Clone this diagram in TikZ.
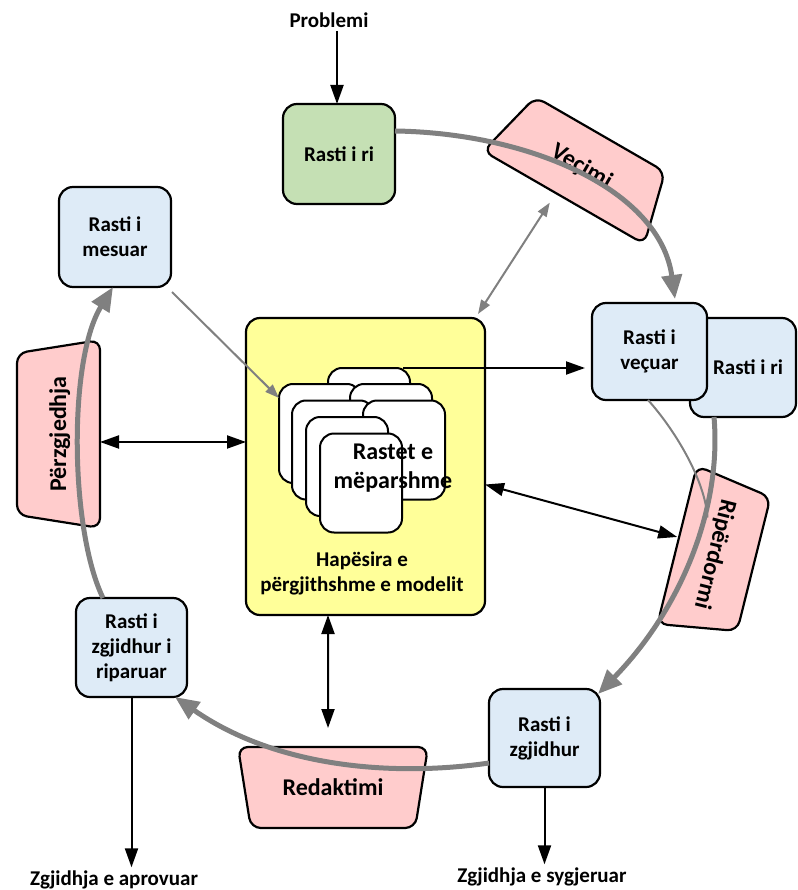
\documentclass[tikz,border=0pt]{standalone}
\usepackage{fontspec}
\setmainfont{Carlito}
\usetikzlibrary{arrows.meta,shapes.geometric,calc}

\definecolor{boxgreen}{RGB}{197,224,180}
\definecolor{boxblue}{RGB}{222,235,247}
\definecolor{procpink}{RGB}{255,204,204}
\definecolor{spaceyellow}{RGB}{255,255,153}
\definecolor{flowgray}{RGB}{128,128,128}

\newcommand\boxfont{\fontsize{21}{25}\selectfont\bfseries}
\newcommand\procfont{\fontsize{24}{29}\selectfont\bfseries}

\tikzset{
  casebox/.style={draw, line width=2.2pt, rounded corners=14pt, fill=boxblue,
    align=center, inner sep=0pt, outer sep=0pt, font=\boxfont},
  % the text box sets the full height, so the side angles stay as given
  proc/.style={trapezium, trapezium stretches body=true, draw, line width=2.2pt,
    rounded corners=10pt, fill=procpink, inner sep=0pt, outer sep=0pt, font=\procfont},
  card/.style={draw, line width=2pt, rounded corners=14pt, fill=white,
    minimum width=82pt, minimum height=99pt, outer sep=0pt},
  plainlbl/.style={font=\boxfont, align=center},
  cycle/.style={draw=flowgray, line width=5pt, -{Triangle[length=24pt,width=20pt]}},
  link/.style={draw=flowgray, line width=2pt,
    {Triangle[length=14pt,width=10pt]}-{Triangle[length=14pt,width=10pt]}},
  linkone/.style={draw=flowgray, line width=2pt, -{Triangle[length=14pt,width=10pt]}},
  flow/.style={line width=2pt, -{Triangle[length=19pt,width=13pt]}},
  both/.style={line width=2pt,
    {Triangle[length=19pt,width=13pt]}-{Triangle[length=19pt,width=13pt]}},
}

\begin{document}
\begin{tikzpicture}[x=1pt,y=-1pt]
\useasboundingbox (0,0) rectangle (797,890);

% central model space with the stack of stored cases
\node[draw, line width=2.2pt, rounded corners=14pt, fill=spaceyellow,
  minimum width=239pt, minimum height=297pt, outer sep=0pt] (space) at (365.5,466.5) {};
\node[plainlbl] (spacelbl) at (362,573) {Hapësira e\\përgjithshme e modelit};
\node[card] (c1) at (369,417.5) {};
\node[card] (c2) at (320,433.5) {};
\node[card] (c3) at (391,433.5) {};
\node[card] (c4) at (333,450) {};
\node[card] (c5) at (404,450) {};
\node[card] (c6) at (347,466.5) {};
\node[card] (c7) at (361,483) {};
\node[font=\procfont, align=center] (pastlbl) at (393,468) {Rastet e\\mëparshme};

% cases around the cycle
\node[plainlbl] (prob) at (329,20) {Problemi};
\node[casebox, fill=boxgreen, minimum width=112pt, minimum height=100pt] (new) at (339,154) {Rasti i ri};
\node[casebox, minimum width=106pt, minimum height=99pt] (newb) at (743,367.5) {\hspace*{10pt}Rasti i ri};
\node[casebox, minimum width=115pt, minimum height=97pt] (isol) at (649.5,351.5) {Rasti i\\veçuar};
\node[casebox, minimum width=111pt, minimum height=98pt] (zgj) at (544.5,738) {Rasti i\\zgjidhur};
\node[casebox, minimum width=111pt, minimum height=99pt] (rip) at (131.5,647.5) {Rasti i\\zgjidhur i\\riparuar};
\node[casebox, minimum width=112pt, minimum height=100pt] (mes) at (115,237) {Rasti i\\mesuar};
\node[plainlbl] (ok) at (114,880) {Zgjidhja e aprovuar};
\node[plainlbl] (sug) at (542,877) {Zgjidhja e sygjeruar};

% process steps
\node[proc, text height=44pt, text depth=29pt, minimum width=186pt,
  trapezium angle=76, rotate=-30] (vec) at (582,166) {Veçimi};
\node[proc, text height=47pt, text depth=32pt, minimum width=163pt,
  trapezium angle=81, rotate=-104] (reuse) at (715.5,554.5) {Ripërdormi};
\node[proc, text height=48pt, text depth=33pt, minimum width=190pt,
  trapezium angle=81, shape border rotate=180] (edit) at (333,787.5) {Redaktimi};
\node[proc, text height=49pt, text depth=34pt, minimum width=188pt,
  trapezium angle=81, rotate=90] (sel) at (58.5,434) {Përzgjedhja};

\coordinate (editTop) at ([shift={(-5pt,19pt)}]edit.north);
\coordinate (reuseMid) at ([shift={(-8pt,37pt)}]reuse.center);

% input and outputs
\draw[flow] ([xshift=-2pt]new.north |- prob.south) -- ([xshift=-2pt]new.north);
\draw[flow] (rip.south) -- (rip.south |- ok.north);
\draw[flow] (zgj.south) -- (zgj.south |- sug.north);

% links with the model space
\draw[flow] ([xshift=-7pt]c1.north east) -- ([xshift=-7pt]c1.north east -| isol.west);
\draw[both] ([yshift=-8pt]sel.south) -- ([yshift=-8pt]sel.south -| space.west);
\draw[both] ([yshift=-18pt]space.east) -- ([yshift=8pt]reuse.south);
\draw[both] ([xshift=-37.5pt]space.south) -- (editTop);
\draw[link] ([shift={(-7pt,4pt)}]space.north east) -- ([shift={(-14pt,-5pt)}]vec.south);
\draw[linkone] ([shift={(1pt,-5pt)}]mes.south east) -- ([yshift=-14pt]c2.north west);
\draw[draw=flowgray, line width=2pt] ([xshift=-1.5pt]isol.south) .. controls (675,430) and (705,480) .. (reuseMid);

% the main cycle
\draw[cycle] ([yshift=23pt]new.east) .. controls (530,133) and (660,190) .. ([shift={(25.5pt,4pt)}]isol.north);
\draw[cycle] ([xshift=-29pt]newb.south) .. controls (722,510) and (680,610) .. ([shift={(-2pt,-5pt)}]zgj.north east);
\draw[cycle] ([yshift=-25pt]zgj.west) .. controls (400,776) and (280,770) .. ([xshift=-12pt]rip.south east);
\draw[cycle] ([xshift=-28.5pt]rip.north) .. controls (70,530) and (68,360) .. ([xshift=-2pt]mes.south);
\end{tikzpicture}
\end{document}
